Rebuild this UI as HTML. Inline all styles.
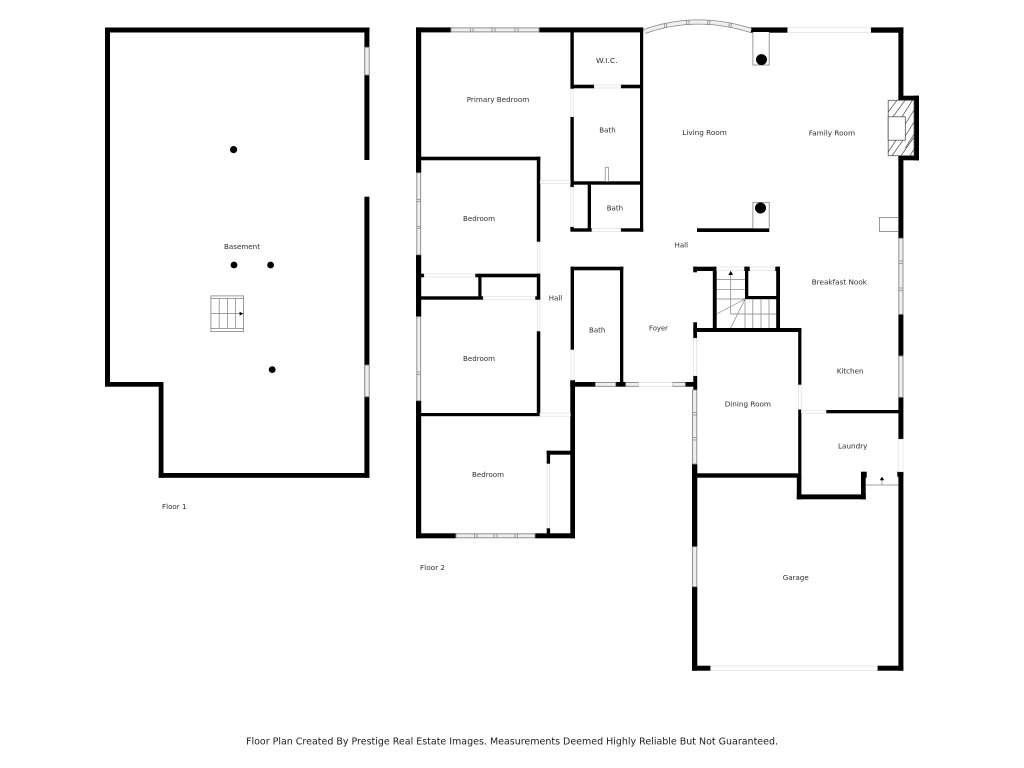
<!DOCTYPE html>
<html><head><meta charset="utf-8"><style>
html,body{margin:0;padding:0;background:#fff;width:1024px;height:768px;overflow:hidden}
svg{display:block}
text{font-family:"DejaVu Sans","Liberation Sans",sans-serif;font-size:7.4px;fill:#2e2e2e}
.w{fill:#000}
.win{fill:#efefef;stroke:#858585;stroke-width:.9}
.m{stroke:#858585;stroke-width:.8;fill:none}
.door{fill:#fff;stroke:#dedede;stroke-width:.7}
.g{stroke:#808080;stroke-width:.7;fill:none}
</style></head><body>
<svg width="1024" height="768" viewBox="0 0 1024 768" xmlns="http://www.w3.org/2000/svg">
<rect width="1024" height="768" fill="#fff"/>

<!-- Basement -->
<g class="w">
<rect x="105" y="27.5" width="264.5" height="5"/>
<rect x="105" y="27.5" width="5" height="359"/>
<rect x="105" y="382" width="58.5" height="4.7"/>
<rect x="158.7" y="382" width="4.8" height="95.7"/>
<rect x="158.7" y="473" width="210.7" height="4.8"/>
<rect x="364.4" y="27.5" width="5" height="132.5"/>
<rect x="364.4" y="196.7" width="5" height="281"/>
</g>
<rect class="win" x="364.8" y="47.3" width="4.4" height="27.7"/>
<rect class="win" x="364.8" y="365" width="4.4" height="31.7"/>
<circle cx="233.6" cy="149.6" r="3.6"/><circle cx="234" cy="265" r="3.4"/><circle cx="270.6" cy="265" r="3.4"/><circle cx="272.2" cy="369.6" r="3.4"/>
<rect x="210.9" y="295.9" width="32.7" height="35.6" fill="#fff" stroke="#808080" stroke-width=".8"/>
<path class="g" d="M211 298.5H243.5M211 313.4H243.5M211 328.4H243.5M219.2 298.5V328.4M227.4 298.5V328.4M235.6 298.5V328.4"/>
<path d="M239.6 311.6L243 313.7L239.6 315.6Z" fill="#000"/>

<!-- Floor 2: exterior -->
<g class="w">
<rect x="416" y="27.4" width="34.8" height="5"/>
<rect x="539.3" y="27.4" width="104" height="5"/>
<rect x="416" y="27.4" width="5.2" height="145.4"/>
<rect x="416" y="255" width="5.2" height="61.7"/>
<rect x="416" y="400.7" width="5.2" height="137.6"/>
<rect x="416" y="533.3" width="39.8" height="5"/>
<rect x="535" y="533.3" width="40" height="5"/>
<rect x="570.3" y="380" width="4.7" height="158.3"/>
<rect x="570.3" y="382" width="25" height="4.7"/>
<rect x="615.7" y="382" width="10" height="4.7"/>
<rect x="685.3" y="382" width="11.7" height="4.7"/>
<rect x="693.3" y="375.7" width="3.9" height="14.3"/>
<rect x="692" y="464" width="5.3" height="82.7"/>
<rect x="692" y="586.7" width="5.3" height="84"/>
<rect x="692" y="665.7" width="18.7" height="5"/>
<rect x="877.3" y="665.7" width="26" height="5"/>
<rect x="898.4" y="27.4" width="5" height="210.9"/>
<rect x="898.4" y="314.3" width="5" height="41.7"/>
<rect x="898.4" y="397.3" width="5" height="42"/>
<rect x="898.4" y="471.7" width="5" height="199"/>
<rect x="750.7" y="27.4" width="37" height="5.3"/>
<rect x="870.7" y="27.4" width="32.7" height="5.3"/>
<rect x="898.4" y="95.7" width="20.6" height="4.6"/>
<rect x="914" y="95.7" width="5" height="64.6"/>
<rect x="898.4" y="155.7" width="20.6" height="4.6"/>

<!-- interior -->
<rect x="570.4" y="32" width="3.4" height="57"/>
<rect x="570.4" y="116.7" width="3.4" height="70.6"/>
<rect x="573" y="84.7" width="21.3" height="3.6"/>
<rect x="620.7" y="84.7" width="21" height="3.6"/>
<rect x="640" y="32" width="3.2" height="199.7"/>
<rect x="573" y="181.3" width="69" height="3.4"/>
<rect x="587.7" y="184" width="3.3" height="47"/>
<rect x="570.4" y="226.7" width="3.4" height="4"/>
<rect x="570.4" y="228.3" width="21.6" height="3.4"/>
<rect x="620.7" y="228.3" width="22.5" height="3.4"/>
<rect x="421" y="156.7" width="119.3" height="3.6"/>
<rect x="536.8" y="156.7" width="3.5" height="85.3"/>
<rect x="536.8" y="273.3" width="3.5" height="26.7"/>
<rect x="536.8" y="331" width="3.5" height="85"/>
<rect x="421" y="273.7" width="3.3" height="3.6"/>
<rect x="475" y="273.7" width="65" height="3.6"/>
<rect x="478.3" y="276" width="3.2" height="22"/>
<rect x="421" y="296.3" width="62.3" height="3.4"/>
<rect x="535" y="296.3" width="5" height="3.4"/>
<rect x="570.6" y="266.7" width="52.7" height="3.6"/>
<rect x="570.6" y="266.7" width="3.4" height="83.3"/>
<rect x="620" y="266.7" width="3.3" height="118"/>
<rect x="421" y="413" width="119" height="3.2"/>
<rect x="546.7" y="450.7" width="3.4" height="13.3"/>
<rect x="546.7" y="450.7" width="25" height="4"/>
<rect x="546.7" y="528" width="3.4" height="6"/>
<rect x="697" y="228.3" width="72.3" height="3.7"/>
<rect x="693.3" y="266.7" width="23.4" height="4.3"/>
<rect x="693.3" y="266.7" width="3.7" height="5.6"/>
<rect x="712.8" y="266.7" width="3.9" height="64"/>
<rect x="744" y="266.7" width="6" height="4.3"/>
<rect x="745" y="266.7" width="3.3" height="32"/>
<rect x="745" y="296" width="35" height="3.2"/>
<rect x="775" y="266.7" width="5" height="4.3"/>
<rect x="776.2" y="266.7" width="3.8" height="64"/>
<rect x="693.3" y="322.3" width="3.7" height="16"/>
<rect x="693.3" y="328" width="108" height="4"/>
<rect x="798.2" y="328" width="3.2" height="57"/>
<rect x="798.2" y="409.3" width="3.2" height="70"/>
<rect x="796.8" y="476" width="4.6" height="23.3"/>
<rect x="697" y="473.3" width="101.5" height="4.4"/>
<rect x="796.8" y="494.4" width="69" height="4.9"/>
<rect x="861" y="476" width="4.7" height="23.3"/>
<rect x="861" y="471.7" width="5.7" height="6"/>
<rect x="826" y="410" width="73" height="3.3"/>
<rect x="897.3" y="471.7" width="6" height="5"/>
</g>

<!-- windows -->
<g>
<rect class="win" x="451" y="27.9" width="88" height="4"/>
<path class="m" d="M470.5 27.6V32.2M473 27.6V32.2M492 27.6V32.2M495 27.6V32.2M515 27.6V32.2M518 27.6V32.2"/>
<rect class="win" x="416.8" y="172.8" width="3.9" height="82"/>
<path class="m" d="M416.8 199.5H420.7M416.8 201.5H420.7M416.8 226.5H420.7M416.8 228.5H420.7"/>
<rect class="win" x="416.8" y="316.7" width="3.9" height="84"/>
<path class="m" d="M416.8 372H420.7M416.8 374.5H420.7"/>
<rect class="win" x="456" y="533.8" width="79" height="4"/>
<path class="m" d="M474.5 533.8V537.8M477 533.8V537.8M494 533.8V537.8M497 533.8V537.8M515 533.8V537.8M517.5 533.8V537.8"/>
<rect class="win" x="595.4" y="382.5" width="20.3" height="3.8"/>
<rect class="win" x="625.7" y="382.5" width="13" height="3.8"/>
<rect class="win" x="672.3" y="382.5" width="13" height="3.8"/>
<rect class="win" x="692.6" y="390" width="4.2" height="74"/>
<path class="m" d="M692.6 412.5H696.8M692.6 415H696.8M692.6 437.5H696.8M692.6 440H696.8"/>
<rect class="win" x="692.6" y="546.7" width="4.2" height="40"/>
<rect class="win" x="898.8" y="238.3" width="4.2" height="76"/>
<path class="m" d="M898.8 261H903M898.8 263.5H903M898.8 288H903M898.8 290.5H903"/>
<rect class="win" x="898.8" y="356" width="4.2" height="41.3"/>
<!-- bay window -->
<path d="M644.5 31.5Q696 13 751 30.5" fill="none" stroke="#858585" stroke-width="5"/>
<path d="M644.5 31.5Q696 13 751 30.5" fill="none" stroke="#efefef" stroke-width="3.4"/>
<path class="m" d="M664 23.5L665 28M666 23L667 27.5M686.5 20L686.8 25M689 20L689.2 25M708 20L707.5 25M710 20.2L709.6 25M729.5 22.8L728.6 27.5M731.5 23.4L730.6 28"/>
</g>

<!-- doors -->
<g>
<rect class="door" x="571" y="89" width="2.6" height="27.7"/>
<rect class="door" x="594.3" y="85" width="26.4" height="3"/>
<rect class="door" x="540.3" y="180.5" width="30" height="3"/>
<rect class="door" x="571" y="187.3" width="2.6" height="39.4"/>
<rect class="door" x="592" y="228.6" width="28.7" height="2.8"/>
<rect class="door" x="537.2" y="242" width="2.6" height="31.3"/>
<rect class="door" x="424.3" y="274" width="50.7" height="3"/>
<rect class="door" x="483.3" y="296.6" width="51.7" height="3"/>
<rect class="door" x="537.2" y="300" width="2.6" height="31"/>
<rect class="door" x="571" y="350" width="3" height="30"/>
<rect class="door" x="540" y="413" width="30.3" height="3.2"/>
<rect class="door" x="547.2" y="464" width="2.4" height="64"/>
<rect class="door" x="638.7" y="382.5" width="33.6" height="3.8"/>
<rect class="door" x="693.6" y="338.3" width="3" height="37.4"/>
<rect class="door" x="787.7" y="27.8" width="83" height="4.6"/>
<rect class="door" x="710.7" y="666" width="166.6" height="4.4"/>
<rect class="door" x="798.6" y="385" width="2.6" height="24.3"/>
<rect class="door" x="801.4" y="410.2" width="24.6" height="3"/>
<rect class="door" x="898.8" y="439.3" width="4.2" height="32.4"/>
<rect class="door" x="716.7" y="267" width="27.3" height="3.4"/>
<rect class="door" x="750" y="267" width="25" height="3.4"/>
</g>

<!-- columns -->
<path d="M752.9 32V65H769.2V32" fill="#fff" stroke="#808080" stroke-width=".8"/>
<circle cx="761.5" cy="59.6" r="5.5"/>
<path d="M752.9 228.3V202.4H769.2V228.3" fill="#fff" stroke="#808080" stroke-width=".8"/>
<circle cx="760.5" cy="208" r="5.5"/>
<rect x="605.2" y="167.5" width="3.4" height="14" fill="#fff" stroke="#808080" stroke-width=".7"/>
<rect x="879.4" y="217.4" width="19" height="14.2" fill="#fff" stroke="#808080" stroke-width=".8"/>

<!-- fireplace -->
<rect x="888.2" y="100.3" width="25.8" height="55.4" fill="#fff" stroke="#555" stroke-width=".8"/>
<path d="M888.2 112L897 100.3M893 116.7L905 100.3M902 116.7L912.5 100.3M905.3 124L914 110M905.3 136L914 122M905.3 148L914 134M888.2 152L896 140.2M892 155.7L903 140.2M901 155.7L914 137M910 155.7L914 149" fill="none" stroke="#444" stroke-width=".7"/>
<rect x="888.2" y="116.8" width="17.1" height="23.4" fill="#fff" stroke="#555" stroke-width=".8"/>

<!-- stairs floor 2 -->
<path class="g" d="M716.7 279.4H745M716.7 289.3H745M716.7 299H745M730.7 274V314H776M745 299L716.7 314M745 299L730.7 328M745 299V328M752.8 299V328M761 299V328M769 299V328"/>
<path d="M730.7 270.8L733 275H728.4Z" fill="#000"/>

<!-- laundry step -->
<path class="g" d="M865.7 485H898.4M882 479V485"/>
<path d="M882 476.6L884.2 480.2H879.8Z" fill="#000"/>

<!-- labels -->
<text x="224" y="249" textLength="36" lengthAdjust="spacingAndGlyphs">Basement</text>
<text x="162" y="508.8" textLength="24.5" lengthAdjust="spacingAndGlyphs">Floor 1</text>
<text x="420" y="569.8" textLength="25" lengthAdjust="spacingAndGlyphs">Floor 2</text>
<text x="466.7" y="101.8" textLength="62.6" lengthAdjust="spacingAndGlyphs">Primary Bedroom</text>
<text x="596" y="62.8" textLength="21.7" lengthAdjust="spacingAndGlyphs">W.I.C.</text>
<text x="599.3" y="132.6" textLength="16.4" lengthAdjust="spacingAndGlyphs">Bath</text>
<text x="463" y="221" textLength="32" lengthAdjust="spacingAndGlyphs">Bedroom</text>
<text x="548.7" y="300.6" textLength="13.6" lengthAdjust="spacingAndGlyphs">Hall</text>
<text x="589" y="332.6" textLength="16.4" lengthAdjust="spacingAndGlyphs">Bath</text>
<text x="606.7" y="210.6" textLength="16.4" lengthAdjust="spacingAndGlyphs">Bath</text>
<text x="463" y="360.8" textLength="32" lengthAdjust="spacingAndGlyphs">Bedroom</text>
<text x="472" y="477" textLength="32" lengthAdjust="spacingAndGlyphs">Bedroom</text>
<text x="682.3" y="134.8" textLength="44.5" lengthAdjust="spacingAndGlyphs">Living Room</text>
<text x="808.7" y="135.4" textLength="46.4" lengthAdjust="spacingAndGlyphs">Family Room</text>
<text x="674.5" y="247.6" textLength="13.6" lengthAdjust="spacingAndGlyphs">Hall</text>
<text x="649" y="330.6" textLength="19" lengthAdjust="spacingAndGlyphs">Foyer</text>
<text x="811.7" y="284.6" textLength="55.3" lengthAdjust="spacingAndGlyphs">Breakfast Nook</text>
<text x="836.7" y="373.6" textLength="26.8" lengthAdjust="spacingAndGlyphs">Kitchen</text>
<text x="724.7" y="406.6" textLength="46.3" lengthAdjust="spacingAndGlyphs">Dining Room</text>
<text x="838" y="448.6" textLength="29.4" lengthAdjust="spacingAndGlyphs">Laundry</text>
<text x="782.7" y="580" textLength="26" lengthAdjust="spacingAndGlyphs">Garage</text>
<text x="246" y="744.5" textLength="532" lengthAdjust="spacingAndGlyphs" style="font-size:9.4px;fill:#1e1e1e">Floor Plan Created By Prestige Real Estate Images. Measurements Deemed Highly Reliable But Not Guaranteed.</text>
</svg>
</body></html>
